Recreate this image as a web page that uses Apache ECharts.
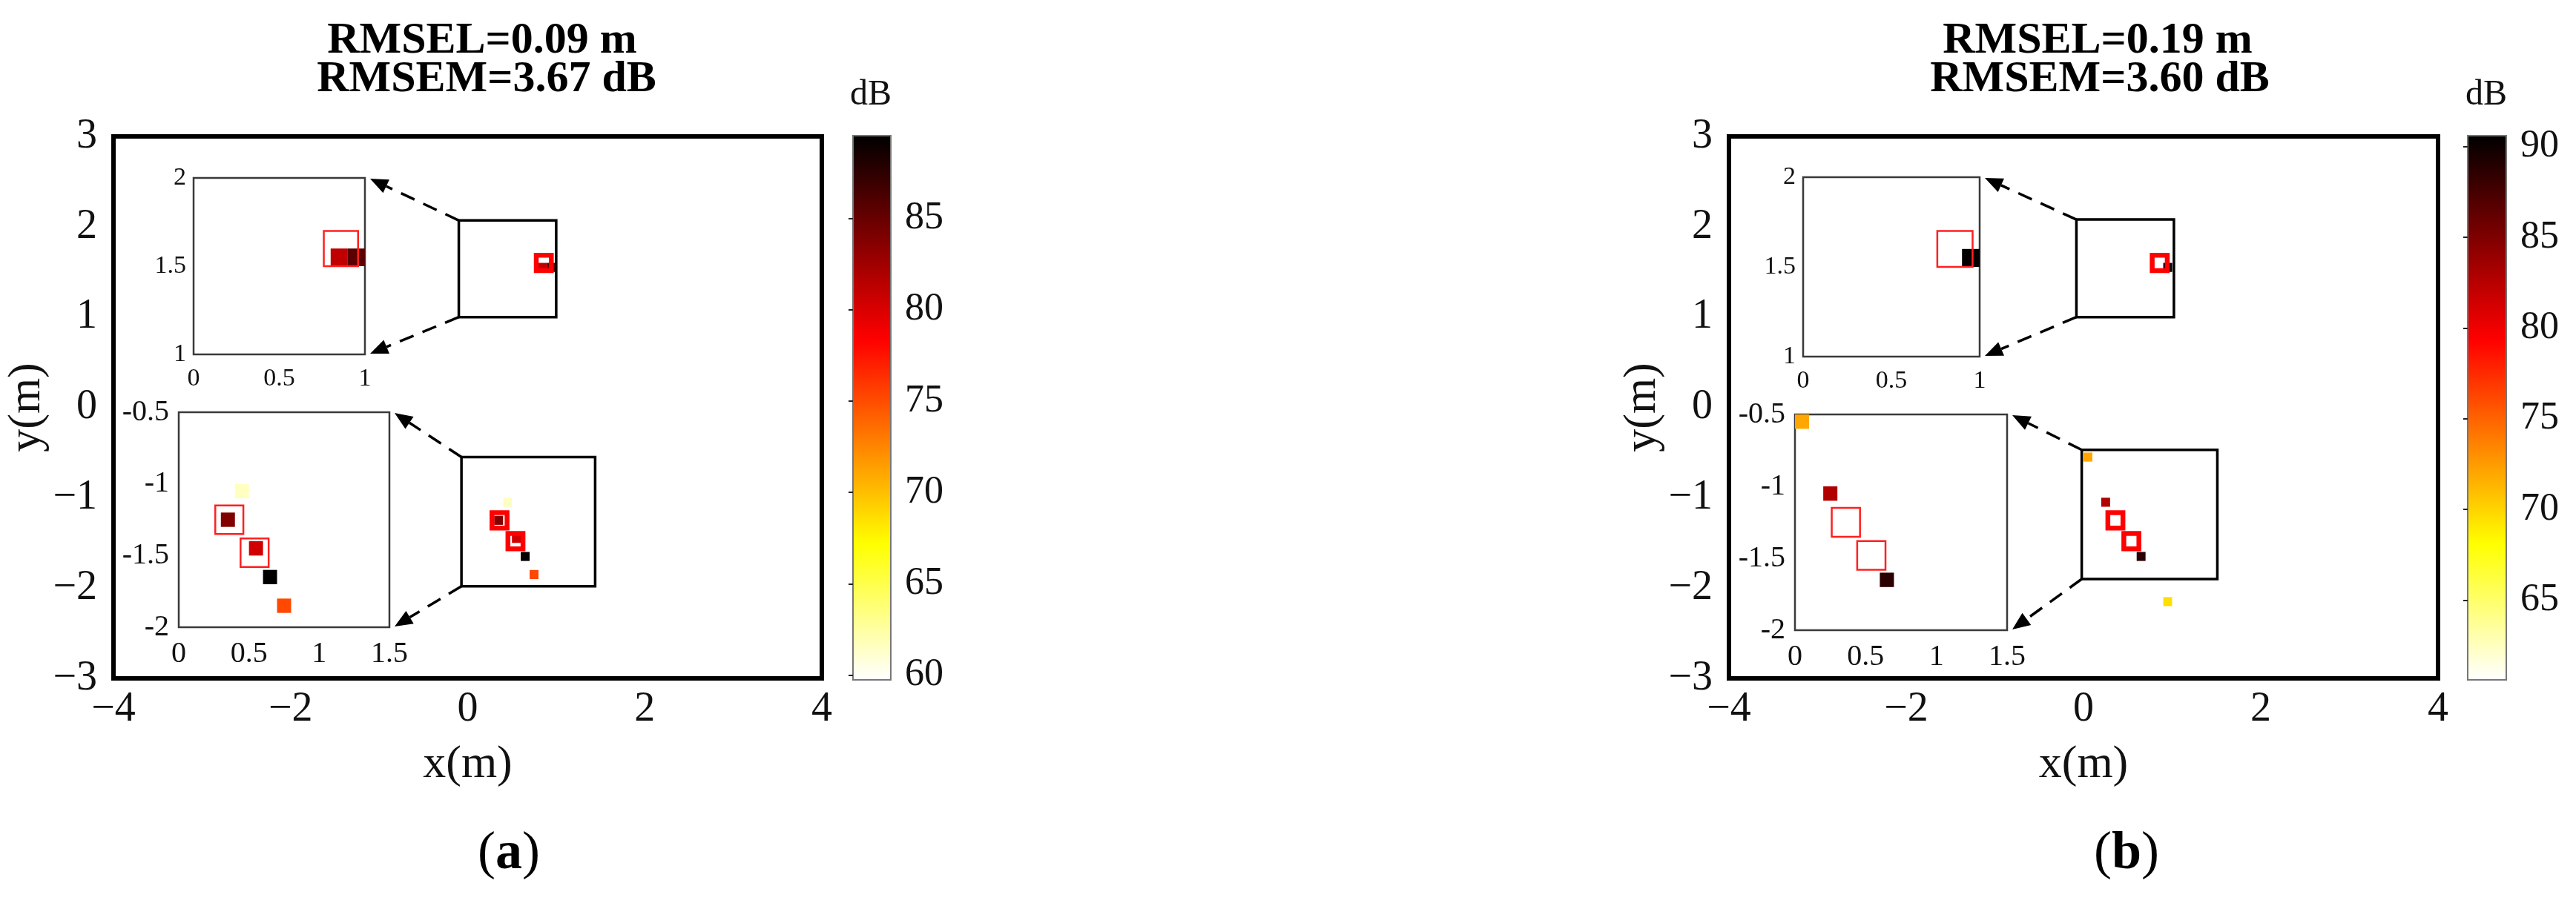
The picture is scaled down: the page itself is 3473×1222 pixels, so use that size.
<!DOCTYPE html>
<html>
<head>
<meta charset="utf-8">
<script src="https://cdn.jsdelivr.net/npm/echarts@6/dist/echarts.min.js"></script>
<style>
  html, body { margin: 0; padding: 0; background: #fff; }
  #chart { width: 3473px; height: 1222px; }
</style>
</head>
<body>
<div id="chart"></div>
<script>
// estimated cells [x (m), y (m), level (dB)]
const cellsA = [
  [0.85, 1.55, 81.1], [0.95, 1.55, 85.6],
  [0.45, -1.05, 61.6], [0.35, -1.25, 83.9], [0.55, -1.45, 80.4],
  [0.65, -1.65, 89.5], [0.75, -1.85, 75.2]
]
const cellsB = [
  [0.95, 1.55, 90.5], [0.05, -0.55, 72.0], [0.25, -1.05, 82.8],
  [0.65, -1.65, 88.7], [0.95, -2.15, 69.5]
]
// true source positions (red squares)
const sources = [[0.86, 1.60], [0.36, -1.25], [0.54, -1.48]]

const titlesA = ['RMSEL=0.09 m', 'RMSEM=3.67 dB']
const titlesB = ['RMSEL=0.19 m', 'RMSEM=3.60 dB']

const mainXTicks = [-4, -2, 0, 2, 4]
const mainYTicks = [-3, -2, -1, 0, 1, 2, 3]
const topInsetX = [0, 0.5, 1]
const topInsetY = [1, 1.5, 2]
const botInsetX = [0, 0.5, 1, 1.5]
const botInsetY = [-2, -1.5, -1, -0.5]
const cbarTicksA = [60, 65, 70, 75, 80, 85]
const cbarTicksB = [65, 70, 75, 80, 85, 90]
const cbarRangeA = [59.74, 89.53]
const cbarRangeB = [60.6, 90.6]
// zoom boxes drawn in the main axes: [x0, x1, y0, y1]
const zoomBoxesA = [[-0.1, 1.0, 1.0, 2.07], [-0.07, 1.44, -1.98, -0.55]]
const zoomBoxesB = [[-0.08, 1.02, 1.0, 2.08], [-0.02, 1.51, -1.9, -0.47]]

const CELL = 0.1
const FONT = '"Liberation Serif", "Times New Roman", serif'
// reversed "hot" colormap
const HOT_R = ['#ffffff', '#ffff80', '#ffff00', '#ffaa00', '#ff5500',
  '#ff0000', '#aa0000', '#550000', '#000000']

const panels = [
  {
    cells: cellsA, titles: titlesA, boxes: zoomBoxesA,
    cbarTicks: cbarTicksA, cbarRange: cbarRangeA, label: 'a',
    main: { left: 153, top: 184, width: 955, height: 731 },
    topInset: { left: 261, top: 240, width: 231, height: 238 },
    botInset: { left: 241, top: 556, width: 284, height: 290 },
    cbar: { left: 1150, top: 183, width: 51, height: 734 },
    titleX: [650, 656], dBX: 1174, labelX: 686
  },
  {
    cells: cellsB, titles: titlesB, boxes: zoomBoxesB,
    cbarTicks: cbarTicksB, cbarRange: cbarRangeB, label: 'b',
    main: { left: 2331, top: 184, width: 956, height: 731 },
    topInset: { left: 2431, top: 239, width: 238, height: 242 },
    botInset: { left: 2420, top: 559, width: 286, height: 291 },
    cbar: { left: 3327, top: 183, width: 52, height: 734 },
    titleX: [2828, 2831], dBX: 3352, labelX: 2867
  }
]

const fmtMinus = v => (v < 0 ? '\u2212' + (-v) : String(v))

function clipTo(params, a, b) {
  const cs = params.coordSys
  return echarts.graphic.clipRectByRect(
    { x: a[0], y: a[1], width: b[0] - a[0], height: b[1] - a[1] },
    { x: cs.x, y: cs.y, width: cs.width, height: cs.height })
}

function renderCell(params, api) {
  const x = api.value(0)
  const y = api.value(1)
  const shape = clipTo(params,
    api.coord([x - CELL / 2, y + CELL / 2]),
    api.coord([x + CELL / 2, y - CELL / 2]))
  return shape && { type: 'rect', shape: shape, style: { fill: api.visual('color') } }
}

function renderSource(size, lw) {
  return function (params, api) {
    const x = api.value(0)
    const y = api.value(1)
    const c = api.coord([x, y])
    const cs = params.coordSys
    if (c[0] < cs.x || c[0] > cs.x + cs.width || c[1] < cs.y || c[1] > cs.y + cs.height) return null
    const a = api.coord([x - size / 2, y + size / 2])
    const b = api.coord([x + size / 2, y - size / 2])
    return {
      type: 'rect',
      shape: { x: a[0], y: a[1], width: b[0] - a[0], height: b[1] - a[1] },
      style: { fill: 'transparent', stroke: lw > 4 ? '#ff0000' : '#ff2020', lineWidth: lw }
    }
  }
}

function renderBox(params, api) {
  const a = api.coord([api.value(0), api.value(3)])
  const b = api.coord([api.value(1), api.value(2)])
  return {
    type: 'rect',
    shape: { x: a[0], y: a[1], width: b[0] - a[0], height: b[1] - a[1] },
    style: { fill: 'transparent', stroke: '#000', lineWidth: 3.5 }
  }
}

const grid = []
const xAxis = []
const yAxis = []
const series = []
const visualMap = []

function labelStyle(size, margin, values, fmt) {
  return {
    customValues: values, formatter: fmt, fontSize: size, fontFamily: FONT,
    color: '#111', margin: margin
  }
}

panels.forEach((p, pi) => {
  const g0 = grid.length
  // main axes
  grid.push(Object.assign({ show: true, borderColor: '#000', borderWidth: 6, backgroundColor: '#fff' }, p.main))
  xAxis.push({
    gridIndex: g0, type: 'value', min: -4, max: 4,
    axisLine: { show: false }, axisTick: { show: false }, splitLine: { show: false },
    axisLabel: labelStyle(56, 14, mainXTicks, fmtMinus),
    name: 'x(m)', nameLocation: 'middle', nameGap: 86,
    nameTextStyle: { fontSize: 62, fontFamily: FONT, color: '#111' }
  })
  yAxis.push({
    gridIndex: g0, type: 'value', min: -3, max: 3,
    axisLine: { show: false }, axisTick: { show: false }, splitLine: { show: false },
    axisLabel: labelStyle(56, 22, mainYTicks, fmtMinus),
    name: 'y(m)', nameLocation: 'middle', nameGap: 79,
    nameTextStyle: { fontSize: 62, fontFamily: FONT, color: '#111' }
  })
  // top inset
  grid.push(Object.assign({ show: true, borderColor: '#3a3a3a', borderWidth: 2.5 }, p.topInset))
  xAxis.push({
    gridIndex: g0 + 1, type: 'value', min: 0, max: 1,
    axisLine: { show: false }, axisTick: { show: false }, splitLine: { show: false },
    axisLabel: labelStyle(34, 16, topInsetX)
  })
  yAxis.push({
    gridIndex: g0 + 1, type: 'value', min: 1, max: 2,
    axisLine: { show: false }, axisTick: { show: false }, splitLine: { show: false },
    axisLabel: labelStyle(34, 10, topInsetY)
  })
  // bottom inset
  grid.push(Object.assign({ show: true, borderColor: '#3a3a3a', borderWidth: 2.5 }, p.botInset))
  xAxis.push({
    gridIndex: g0 + 2, type: 'value', min: 0, max: 1.5,
    axisLine: { show: false }, axisTick: { show: false }, splitLine: { show: false },
    axisLabel: labelStyle(40, 16, botInsetX)
  })
  yAxis.push({
    gridIndex: g0 + 2, type: 'value', min: -2, max: -0.5,
    axisLine: { show: false }, axisTick: { show: false }, splitLine: { show: false },
    axisLabel: labelStyle(40, 13, botInsetY)
  })
  // colorbar axis
  grid.push(Object.assign({ show: true, borderColor: '#777', borderWidth: 2, z: 10 }, p.cbar))
  xAxis.push({ gridIndex: g0 + 3, type: 'value', min: 0, max: 1, show: false })
  yAxis.push({
    gridIndex: g0 + 3, type: 'value', position: 'right', z: 10,
    min: p.cbarRange[0], max: p.cbarRange[1],
    axisLine: { show: false }, splitLine: { show: false },
    axisTick: { show: true, inside: true, length: 6, customValues: p.cbarTicks, lineStyle: { color: '#222', width: 2 } },
    axisLabel: labelStyle(52, 19, p.cbarTicks)
  })

  const cellIdx = []
  ;[g0, g0 + 1, g0 + 2].forEach((gi, k) => {
    cellIdx.push(series.length)
    series.push({
      type: 'custom', xAxisIndex: gi, yAxisIndex: gi, renderItem: renderCell,
      data: p.cells, z: 2
    })
    series.push({
      type: 'custom', xAxisIndex: gi, yAxisIndex: gi,
      renderItem: k === 0 ? renderSource(0.17, 6.5) : renderSource(0.2, 2.5),
      data: sources, z: 3
    })
  })
  series.push({
    type: 'custom', xAxisIndex: g0, yAxisIndex: g0, renderItem: renderBox,
    data: p.boxes, z: 3
  })

  visualMap.push({
    type: 'continuous', seriesIndex: cellIdx, dimension: 2,
    min: p.cbarRange[0], max: p.cbarRange[1],
    left: p.cbar.left, top: p.cbar.top,
    itemWidth: p.cbar.width, itemHeight: p.cbar.height,
    calculable: false, hoverLink: false, padding: 0,
    inRange: { color: HOT_R }
  })
})

const chart = echarts.init(document.getElementById('chart'))
chart.setOption({
  animation: false,
  backgroundColor: '#fff',
  grid: grid,
  xAxis: xAxis,
  yAxis: yAxis,
  visualMap: visualMap,
  series: series
})

// dashed arrows from zoom boxes to insets, titles and panel labels
function arrow(p, q) {
  const dx = q[0] - p[0]
  const dy = q[1] - p[1]
  const L = Math.hypot(dx, dy)
  const ux = dx / L
  const uy = dy / L
  const head = 24
  const hw = 10
  const base = [q[0] - ux * head, q[1] - uy * head]
  return [
    { type: 'line', shape: { x1: p[0], y1: p[1], x2: base[0], y2: base[1] },
      style: { stroke: '#000', lineWidth: 3.5, lineDash: [20, 13] }, z: 20 },
    { type: 'polygon',
      shape: { points: [q, [base[0] - uy * hw, base[1] + ux * hw], [base[0] + uy * hw, base[1] - ux * hw]] },
      style: { fill: '#000' }, z: 20 }
  ]
}

const graphic = []
panels.forEach((p, pi) => {
  const g0 = pi * 4
  const px = (gi, pt) => chart.convertToPixel({ gridIndex: gi }, pt)
  const insets = [[g0 + 1, topInsetX, topInsetY], [g0 + 2, botInsetX, botInsetY]]
  p.boxes.forEach((b, k) => {
    const gi = insets[k][0]
    const xs = insets[k][1]
    const ys = insets[k][2]
    const tr = px(gi, [xs[xs.length - 1], ys[ys.length - 1]])
    const br = px(gi, [xs[xs.length - 1], ys[0]])
    graphic.push(...arrow(px(g0, [b[0], b[3]]), [tr[0] + 7, tr[1] + 1]))
    graphic.push(...arrow(px(g0, [b[0], b[2]]), [br[0] + 7, br[1] - 1]))
  })
  p.titles.forEach((t, i) => {
    graphic.push({
      type: 'text', x: p.titleX[i], y: 55 + i * 52,
      style: { text: t, fill: '#000', font: 'bold 60px ' + FONT, textAlign: 'center', textVerticalAlign: 'middle' }
    })
  })
  graphic.push({
    type: 'text', x: p.dBX, y: 128,
    style: { text: 'dB', fill: '#111', font: '48px ' + FONT, textAlign: 'center', textVerticalAlign: 'middle' }
  })
  graphic.push({
    type: 'text', x: p.labelX, y: 1152,
    style: {
      text: '{n|(}{b|' + p.label + '}{n|)}', textAlign: 'center', textVerticalAlign: 'middle',
      rich: {
        n: { fontSize: 72, fontFamily: FONT, fill: '#000' },
        b: { fontSize: 72, fontFamily: FONT, fontWeight: 'bold', fill: '#000' }
      }
    }
  })
})
chart.setOption({ graphic: graphic })
</script>
</body>
</html>
